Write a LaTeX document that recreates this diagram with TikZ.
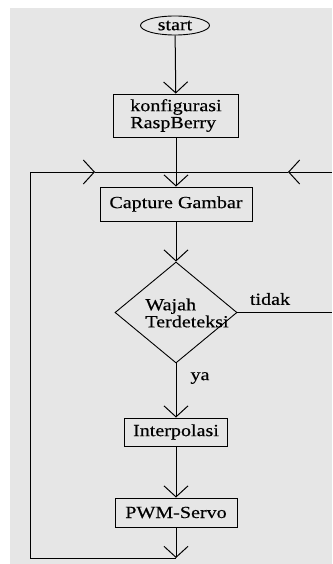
\documentclass[tikz,border=0pt]{standalone}
\usepackage{fontspec}
\setmainfont{Liberation Serif}[FakeStretch=1.18,FakeBold=0.4]
\usepackage{tikz}
\usetikzlibrary{positioning}
\usetikzlibrary{shapes.geometric}
\usetikzlibrary{arrows.meta}
\pgfdeclarelayer{nodelayer}
\pgfdeclarelayer{edgelayer}
\pgfsetlayers{nodelayer,edgelayer,main}
\definecolor{paper}{RGB}{230,230,230}
\tikzset{
  terminal/.style={draw, ellipse, line width=0.9pt, minimum width=69pt, minimum height=19pt, inner sep=0pt},
  process/.style={draw, rectangle, line width=0.9pt, inner sep=0pt},
  decision/.style={draw, diamond, line width=0.9pt, minimum width=122pt, minimum height=101pt, inner sep=0pt},
  flow/.style={-{Straight Barb[length=11pt,width=24pt]}, line width=1pt},
  line/.style={line width=1pt}
}

\begin{document}
\begin{tikzpicture}[x=1pt, y=-1pt, font=\fontsize{17}{17}\selectfont]
  \useasboundingbox (0, 0) rectangle (332, 564);
  \begin{pgfonlayer}{nodelayer}
    \fill [paper] (10, 8) rectangle (332, 564);
    \node [terminal] (0) at (175, 25.5) {start};
    \node [process, minimum width=125pt, minimum height=43pt, align=left] (1) at (176, 115.5) {konfigurasi\\RaspBerry};
    \node [process, minimum width=152pt, minimum height=34pt] (2) at (176, 204) {Capture Gambar};
    \node [decision] (3) at (176, 312.5) {};
    \node [align=left] (4) at (187, 313) {Wajah\\Terdeteksi};
    \node [process, minimum width=103pt, minimum height=28pt] (5) at (176, 432) {Interpolasi};
    \node [process, minimum width=122pt, minimum height=29pt] (6) at (176, 512.5) {PWM-Servo};
    \node [] (7) at (270, 299) {tidak};
    \node [] (8) at (200, 378) {ya};
    \coordinate (9) at (176, 558);
    \coordinate (10) at (30, 558);
    \coordinate (11) at (30, 172);
    \coordinate (12) at (95, 172);
    \coordinate (13) at (176, 172);
    \coordinate (14) at (332, 312.5);
    \coordinate (15) at (332, 172);
    \coordinate (16) at (288, 172);
  \end{pgfonlayer}
  \begin{pgfonlayer}{edgelayer}
    \draw [flow] (0) to (1);
    \draw [flow] (1) to (2);
    \draw [flow] (2) to (3);
    \draw [flow] (3) to (5);
    \draw [flow] (5) to (6);
    \draw [flow] (6) to (9);
    \draw [flow] (9) to (10) to (11) to (12);
    \draw [line] (12) to (13);
    \draw [line] (3) to (14);
    \draw [flow] (15) to (16);
    \draw [line] (16) to (13);
  \end{pgfonlayer}
\end{tikzpicture}
\end{document}
